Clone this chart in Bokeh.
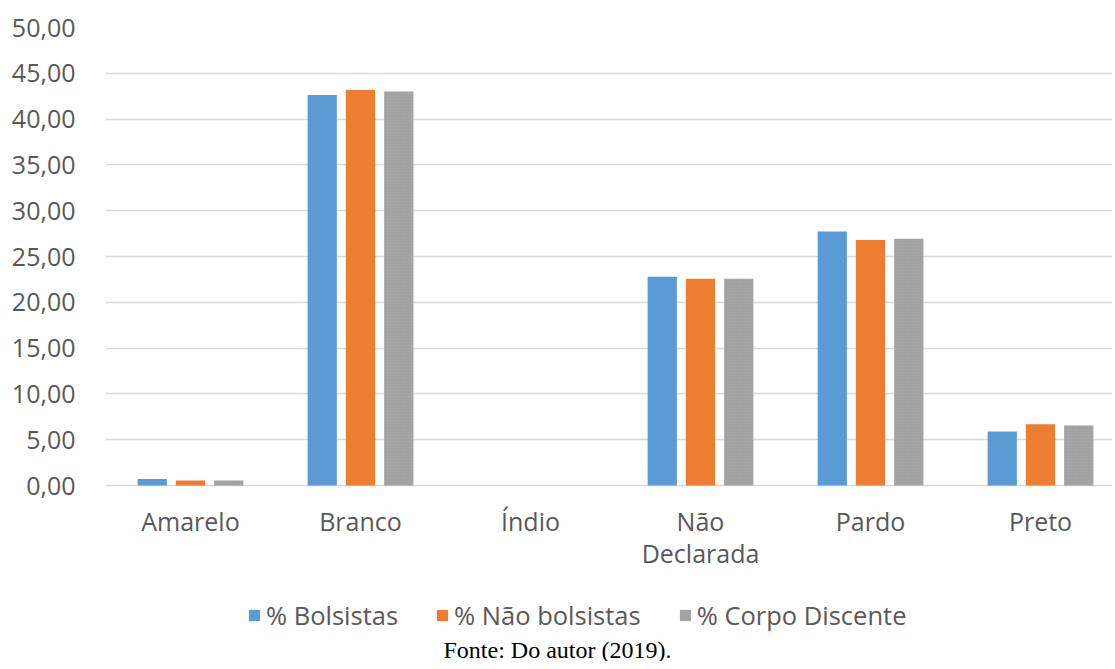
from bokeh.plotting import figure
from bokeh.models import (Range1d, FixedTicker, CustomJSTickFormatter, Legend, LegendItem, Label, ColumnDataSource)
from bokeh.core.properties import value
from bokeh.embed import file_html
from bokeh.resources import INLINE

categories = ["Amarelo", "Branco", "Índio", "Não\nDeclarada", "Pardo", "Preto"]
bolsistas = [0.70, 42.62, 0.0, 22.78, 27.73, 5.90]
nao_bolsistas = [0.55, 43.17, 0.0, 22.57, 26.79, 6.70]
corpo_discente = [0.55, 43.00, 0.0, 22.57, 26.93, 6.55]
series_names = ["% Bolsistas", "% Não bolsistas", "% Corpo Discente"]
y_ticks = [0, 5, 10, 15, 20, 25, 30, 35, 40, 45, 50]
source_text = "Fonte: Do autor (2019)."

FONT = "Open Sans"
TXT = "#595959"

W, H = 1112, 661
LEFT, TOP = 105, 27
ZERO_PX = 485                   # pixel row of value 0
PX_PER_UNIT = (ZERO_PX - TOP) / 50.0
CAT_PX = 170
y_start = -(H - ZERO_PX) / PX_PER_UNIT
x_end = (W - LEFT) / CAT_PX

p = figure(width=W, height=H, output_backend="svg", toolbar_location=None,
           x_range=Range1d(0, x_end), y_range=Range1d(y_start, 50),
           min_border_left=LEFT, min_border_right=0, min_border_top=TOP, min_border_bottom=0)
p.outline_line_color = None

centers = [i + 0.5 for i in range(len(categories))]
colors = ["#5B9BD5", "#ED7D31", "#A5A5A5"]
offsets = [-0.225, 0.0, 0.225]
renderers = []
for vals, col, off in zip([bolsistas, nao_bolsistas, corpo_discente], colors, offsets):
    src = ColumnDataSource(dict(x=[c + off for c in centers], top=vals))
    kw = {}
    if col == "#A5A5A5":
        kw = dict(hatch_pattern="dot", hatch_color="#8f8f8f", hatch_scale=3, hatch_alpha=0.5)
    r = p.vbar(x="x", top="top", width=0.172, bottom=0, source=src, fill_color=col, line_color=None, **kw)
    renderers.append(r)

# category labels drawn under the baseline
lab_src = ColumnDataSource(dict(x=centers, y=[-(503 - ZERO_PX) / PX_PER_UNIT] * len(centers), t=categories))
p.text(x="x", y="y", text="t", source=lab_src, text_font=value(FONT), text_font_size="25px",
       text_color=TXT, text_align="center", text_baseline="top", text_line_height=0.95)

p.xaxis.visible = False

p.yaxis.ticker = FixedTicker(ticks=y_ticks)
p.yaxis.formatter = CustomJSTickFormatter(code="return tick.toFixed(2).replace('.', ',');")
p.yaxis.major_tick_line_color = None
p.yaxis.minor_tick_line_color = None
p.yaxis.axis_line_color = None
p.yaxis.major_label_text_font = FONT
p.yaxis.major_label_text_font_size = "25px"
p.yaxis.major_label_text_color = TXT
p.yaxis.major_label_standoff = 24

p.xgrid.grid_line_color = None
p.ygrid.ticker = FixedTicker(ticks=y_ticks)
p.ygrid.grid_line_color = "#D9D9D9"
p.ygrid.grid_line_width = 1.5

legend = Legend(items=[LegendItem(label=n, renderers=[r]) for n, r in zip(series_names, renderers)],
                orientation="horizontal", location=(247 - LEFT, H - 632),
                label_text_font=FONT, label_text_font_size="25.5px", label_text_color=TXT,
                glyph_width=14, glyph_height=14, label_standoff=5, spacing=37,
                padding=0, margin=0, border_line_color=None, background_fill_alpha=0)
p.add_layout(legend, "center")

p.add_layout(Label(x=557 - LEFT, y=H - 649, x_units="screen", y_units="screen", text=source_text,
                   text_font="Liberation Serif", text_font_size="24px", text_color="black",
                   text_align="center", text_baseline="middle"))

open("out.html", "w").write(file_html(p, INLINE))
